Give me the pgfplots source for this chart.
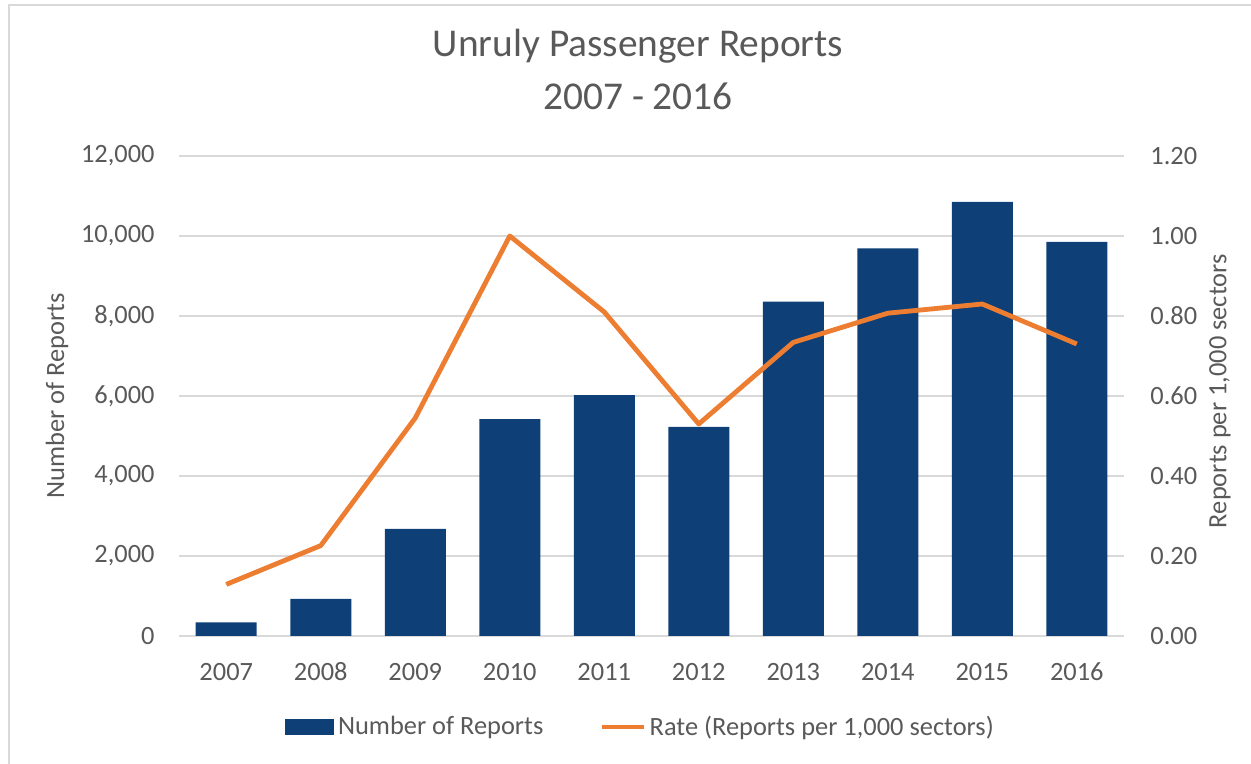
\documentclass[border=0pt]{standalone}
\usepackage{fontspec}
\setmainfont{Carlito}
\usepackage{pgfplots}
\pgfplotsset{compat=1.18}
\definecolor{barblue}{HTML}{0E4077}
\definecolor{lineorange}{HTML}{ED7D31}
\definecolor{textgray}{HTML}{595959}
\definecolor{gridgray}{HTML}{D9D9D9}
\newcommand\lblfont{\fontsize{13.2}{15.8}\selectfont}
\begin{document}
\begin{tikzpicture}
\path[use as bounding box] (-89.5pt,-64pt) rectangle (536pt,318pt);
\draw[gridgray, line width=1pt] (-85pt,-64pt) -- (-85pt,315.5pt) -- (536pt,315.5pt);
\pgfplotsset{common/.style={
  scale only axis, width=472.5pt, height=240pt,
  xmin=-0.5, xmax=9.5,
  axis line style={draw=none}, tick style={draw=none},
  /pgf/number format/assume math mode=true,
  tick label style={font=\lblfont, text=textgray, inner sep=0pt},
  label style={font=\lblfont, text=textgray},
}}
\begin{axis}[common,
  ymin=0, ymax=12000, ytick={0,2000,4000,6000,8000,10000,12000},
  scaled y ticks=false,
  ymajorgrids, major grid style={gridgray, line width=0.7pt},
  yticklabel style={anchor=east, xshift=-12pt, /pgf/number format/1000 sep={,}},
  xtick={0,1,2,3,4,5,6,7,8,9},
  xticklabels={2007,2008,2009,2010,2011,2012,2013,2014,2015,2016},
  xticklabel style={anchor=center, yshift=-18pt},
  ylabel={Number of Reports},
  ylabel style={at={(axis description cs:-0.129,0.5)}, anchor=center},
]
\addplot[ybar, bar width=30.5pt, fill=barblue, draw=none] coordinates {
  (0,340) (1,925) (2,2680) (3,5420) (4,6020) (5,5230) (6,8360) (7,9690) (8,10850) (9,9850)};
\end{axis}
\begin{axis}[common,
  ymin=0, ymax=1.2, ytick={0,0.2,0.4,0.6,0.8,1.0,1.2},
  yticklabel pos=right,
  xtick=\empty,
  yticklabel style={anchor=west, xshift=13pt, /pgf/number format/fixed, /pgf/number format/fixed zerofill, /pgf/number format/precision=2},
  ylabel={Reports per 1,000 sectors},
  ylabel style={at={(axis description cs:1.1016,0.51)}, anchor=center},
  legend style={at={(0.4894,-0.1896)}, anchor=center, draw=none, fill=none,
    legend columns=2, font=\lblfont, text=textgray,
    /tikz/every even column/.append style={column sep=26pt}},
]
\addlegendimage{legend image code/.code={\fill[barblue] (0pt,-3.75pt) rectangle (24pt,3.75pt);}}
\addlegendentry{Number of Reports}
\addplot[lineorange, line width=2.4pt, line join=round, no marks,
  legend image code/.code={\draw[lineorange, line width=2.2pt] (0pt,0pt) -- (21pt,0pt);}] coordinates {
  (0,0.129) (1,0.226) (2,0.545) (3,1.00) (4,0.81) (5,0.53) (6,0.734) (7,0.807) (8,0.83) (9,0.73)};
\addlegendentry{Rate (Reports per 1,000 sectors)}
\end{axis}
\node[anchor=base, font=\fontsize{19.7}{24}\selectfont, text=textgray] at (229.5pt,289.5pt) {Unruly Passenger Reports};
\node[anchor=base, font=\fontsize{19.7}{24}\selectfont, text=textgray] at (229.5pt,263pt) {2007 - 2016};
\end{tikzpicture}
\end{document}
